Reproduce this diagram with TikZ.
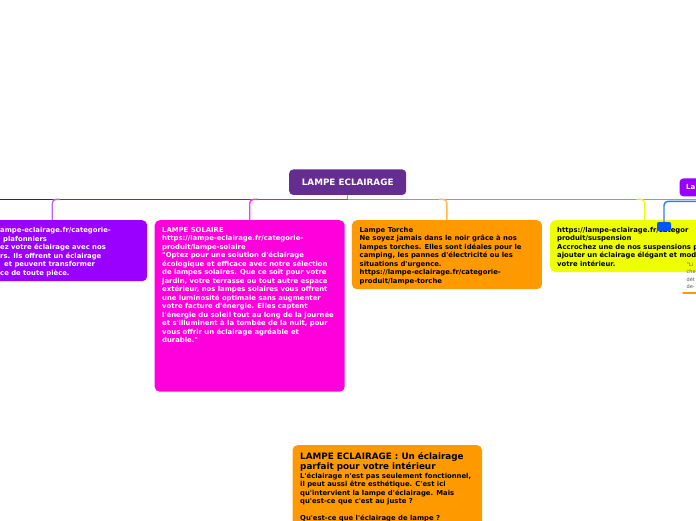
\documentclass[tikz,border=0pt]{standalone}
\usepackage{fontspec}
\newfontfamily\mf{DejaVu Sans}
\definecolor{cRoot}{HTML}{662D91}
\definecolor{cPurple}{HTML}{9900FF}
\definecolor{cPurpleStem}{HTML}{B366FF}
\definecolor{cMagenta}{HTML}{FF00DD}
\definecolor{cMagentaStem}{HTML}{FF33EE}
\definecolor{cOrange}{HTML}{FF9900}
\definecolor{cOrangeStem}{HTML}{FFB84D}
\definecolor{cYellow}{HTML}{EEFF00}
\definecolor{cGreen}{HTML}{33EE00}
\definecolor{cBlueLine}{HTML}{3300FF}
\definecolor{cBlue}{HTML}{0055FF}
\definecolor{cBlueStem}{HTML}{3377FF}
\definecolor{cGrayText}{HTML}{555555}
\begin{document}
\begin{tikzpicture}[x=1pt,y=-1pt,
  box/.style={rounded corners=5pt, inner sep=0pt, anchor=north west},
  txt/.style={anchor=north west, inner sep=0pt, align=left, font=\mf\fontsize{6.85}{8.5}\selectfont\bfseries},
  stem/.style={line width=1.4pt, rounded corners=4pt},
  hline/.style={line width=1.4pt}]
\useasboundingbox (0,0) rectangle (696,520);
\clip (0,0) rectangle (696,520);

% root
\node[rounded corners=4pt, fill=cRoot, text=white, inner sep=0pt, minimum width=117pt, minimum height=25.5pt,
      font=\mf\fontsize{8.8}{10}\selectfont\bfseries] (root) at (347.7,182.2) {LAMPE ECLAIRAGE};

% branch boxes
\node[box, fill=cPurple, minimum width=190pt, minimum height=61pt] (plaf) at (-43,220) {};
\node[box, fill=cMagenta, minimum width=190pt, minimum height=171.5pt] (solar) at (154.5,220) {};
\node[box, fill=cOrange, minimum width=190pt, minimum height=69pt] (torch) at (351.7,220) {};
\node[box, fill=cYellow, minimum width=189pt, minimum height=52pt] (susp) at (550,220) {};
\node[box, fill=cPurple, minimum width=60pt, minimum height=18pt, rounded corners=4pt] (la) at (679.3,178.2) {};
\node[box, fill=cOrange, minimum width=189.5pt, minimum height=110pt] (intro) at (292.3,445) {};

% connectors
\coordinate (j) at (347.7,199.3);
\coordinate (jm) at (250,199.3);
\coordinate (jp) at (52,199.3);
\coordinate (leftend) at (-5,199.3);
\coordinate (rightend) at (705,199.3);
\draw[hline, cGreen] (root.south) -- (j) -- (rightend);
\draw[hline, cMagenta] (j) -- (jm);
\draw[hline, cPurple] (jm) -- (jp);
\draw[hline, cBlueLine] (jp) -- (leftend);
\draw[stem, cPurpleStem] (plaf.north) |- ([xshift=8pt]jp);
\draw[stem, cMagentaStem] (solar.north) |- ([xshift=8pt]jm);
\draw[stem, cOrangeStem] (torch.north) |- ([xshift=-8pt]torch.north |- j);
\draw[stem, cYellow] (susp.north) |- ([xshift=-8pt]susp.north |- j);

% texts
\node[txt, text=white] (plaftext) at (0,227.2) {ampe-eclairage.fr/categorie-\\
\hspace*{3pt}plafonniers\\
ez votre éclairage avec nos\\
rs. Ils offrent un éclairage\\
\hspace*{4pt}et peuvent transformer\\
ce de toute pièce.};

\node[txt, text=white] (solartext) at (162,227.2) {LAMPE SOLAIRE\\
https://lampe-eclairage.fr/categorie-\\
produit/lampe-solaire\\
"Optez pour une solution d'éclairage\\
écologique et efficace avec notre sélection\\
de lampes solaires. Que ce soit pour votre\\
jardin, votre terrasse ou tout autre espace\\
extérieur, nos lampes solaires vous offrent\\
une luminosité optimale sans augmenter\\
votre facture d'énergie. Elles captent\\
l'énergie du soleil tout au long de la journée\\
et s'illuminent à la tombée de la nuit, pour\\
vous offrir un éclairage agréable et\\
durable."};

\node[txt, text=black] (torchtext) at (359.5,227) {Lampe Torche\\
Ne soyez jamais dans le noir grâce à nos\\
lampes torches. Elles sont idéales pour le\\
camping, les pannes d'électricité ou les\\
situations d'urgence.\\
https://lampe-eclairage.fr/categorie-\\
produit/lampe-torche};

\node[txt, text=black] (susptext) at (557,227) {https://lampe-eclairage.fr/categor\\
produit/suspension\\
Accrochez une de nos suspensions p\\
ajouter un éclairage élégant et mod\\
votre intérieur.};

\node[anchor=west, inner sep=0pt, text=white, font=\mf\fontsize{7}{8}\selectfont\bfseries] (latext) at (686,187.2) {La};

\node[txt, text=black, font=\mf\fontsize{8.8}{10}\selectfont\bfseries] (introtitle) at (300,452.6) {LAMPE ECLAIRAGE : Un éclairage\\
parfait pour votre intérieur};
\node[txt, text=black] (introbody) at (300,472.6) {L'éclairage n'est pas seulement fonctionnel,\\
il peut aussi être esthétique. C'est ici\\
qu'intervient la lampe d'éclairage. Mais\\
qu'est-ce que c'est au juste ?\\[8.5pt]
Qu'est-ce que l'éclairage de lampe ?};

% small blue node and its connector
\node[rounded corners=2pt, fill=cBlue, minimum width=14pt, minimum height=9pt, inner sep=0pt] (bluen) at (664,226.5) {};
\coordinate (blueend) at (705,201.3);
\draw[stem, cBlueStem] (bluen.north) |- (blueend);

% partial note at the right edge
\node[anchor=north west, inner sep=0pt, align=left, text=cGrayText,
      font=\mf\fontsize{5}{7.5}\selectfont] (note) at (686.5,262) {"Li\\che\\dét\\de-};
\coordinate (ol1) at (683,292.5);
\coordinate (ol2) at (705,292.5);
\draw[line width=2pt, cOrange, line cap=round] (ol1) -- (ol2);
\end{tikzpicture}
\end{document}
